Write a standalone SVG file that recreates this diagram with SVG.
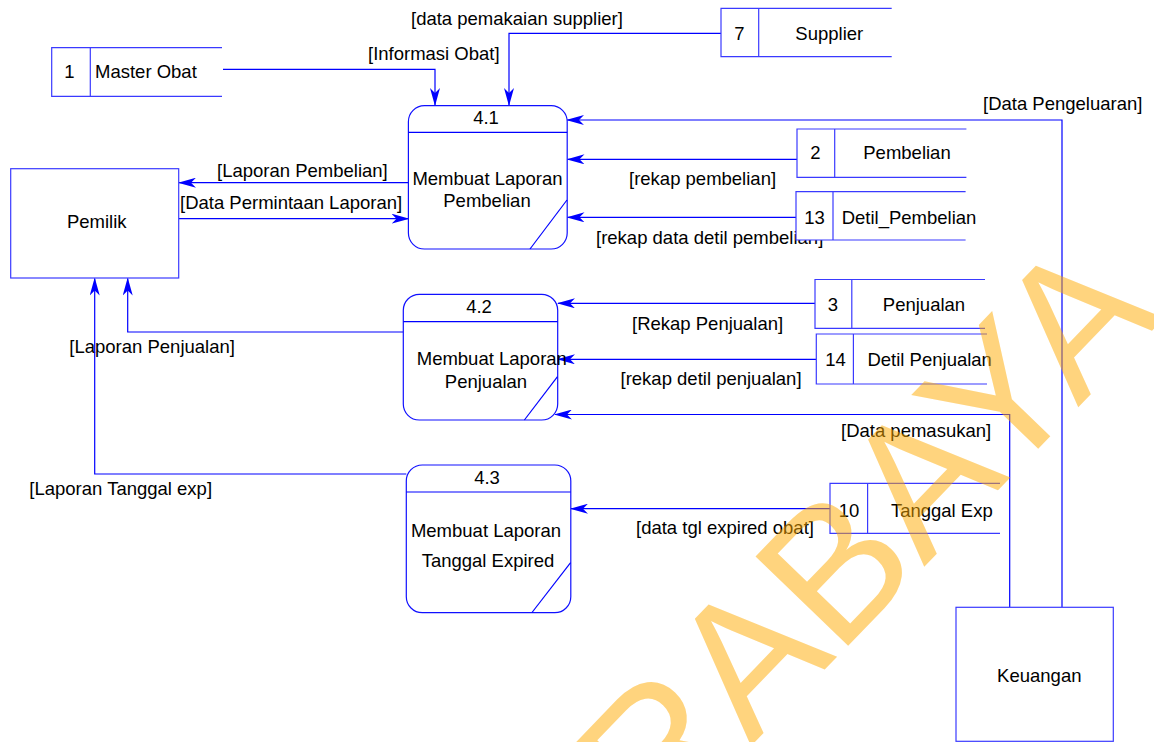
<svg xmlns="http://www.w3.org/2000/svg" width="1154" height="742" viewBox="0 0 1154 742">
  <style>
    text { font-family: "Liberation Sans", Arial, sans-serif; font-size: 18.5px; fill: #000; }
    .mid { text-anchor: middle; }
    .proc { fill: #fff; stroke: #1010ff; stroke-width: 1.2; }
    .ent { fill: #fff; stroke: #3a3aff; stroke-width: 1.2; }
    .store-bg { fill: #fff; stroke: none; }
    .store { fill: none; stroke: #3a3aff; stroke-width: 1.2; }
    .flow { fill: none; stroke: #0000ff; stroke-width: 1.2; marker-end: url(#arrow); }
    .line { fill: none; stroke: #0000ff; stroke-width: 1.2; }
    .wm { font-size: 187px; fill: #ffab00; opacity: 0.5; }
  </style>
  <defs>
    <marker id="arrow" viewBox="0 0 18 10" markerUnits="userSpaceOnUse" markerWidth="18" markerHeight="10" refX="17" refY="5" orient="auto">
      <path d="M0,0 L18,5 L0,10 L5,5 Z" fill="#0000ff"/>
    </marker>
  </defs>

  <rect width="1154" height="742" fill="#fff"/>

  <!-- connectors and their labels -->
  <g id="connectors">
    <!-- Master Obat -> 4.1 -->
    <polyline class="flow" points="223,69.3 435,69.3 435,105"/>
    <text x="368" y="60">[Informasi Obat]</text>
    <!-- Supplier -> 4.1 -->
    <polyline class="flow" points="721,33.3 509,33.3 509,105"/>
    <text x="411" y="25">[data pemakaian supplier]</text>
    <!-- Keuangan -> 4.1 -->
    <polyline class="flow" points="1062,607.3 1062,120 567,120"/>
    <text x="983" y="110">[Data Pengeluaran]</text>
    <!-- Pembelian -> 4.1 -->
    <line class="flow" x1="797" y1="159.3" x2="567.5" y2="159.3"/>
    <text x="629" y="185">[rekap pembelian]</text>
    <!-- Detil_Pembelian -> 4.1 -->
    <line class="flow" x1="796" y1="217.3" x2="567.5" y2="217.3"/>
    <text x="596" y="244">[rekap data detil pembelian]</text>
    <!-- 4.1 -> Pemilik -->
    <line class="flow" x1="408.5" y1="182.7" x2="179" y2="182.7"/>
    <text x="217" y="177">[Laporan Pembelian]</text>
    <!-- Pemilik -> 4.1 -->
    <line class="flow" x1="178.7" y1="218.7" x2="408.5" y2="218.7"/>
    <text x="180" y="209">[Data Permintaan Laporan]</text>
    <!-- Penjualan -> 4.2 -->
    <line class="flow" x1="815" y1="303.3" x2="558" y2="303.3"/>
    <text x="632" y="329.5">[Rekap Penjualan]</text>
    <!-- Detil Penjualan -> 4.2 -->
    <line class="flow" x1="816" y1="359.3" x2="558" y2="359.3"/>
    <text x="620.5" y="385">[rekap detil penjualan]</text>
    <!-- Keuangan -> 4.2 -->
    <polyline class="flow" points="1009.7,607.3 1009.7,414.5 555,414.5"/>
    <text x="841" y="437">[Data pemasukan]</text>
    <!-- 4.2 -> Pemilik -->
    <polyline class="flow" points="403.3,332 127.7,332 127.7,278.5"/>
    <text x="69.3" y="353">[Laporan Penjualan]</text>
    <!-- 4.3 -> Pemilik -->
    <polyline class="flow" points="406.3,474 94.7,474 94.7,278.5"/>
    <text x="29.3" y="495">[Laporan Tanggal exp]</text>
    <!-- Tanggal Exp -> 4.3 -->
    <line class="flow" x1="830" y1="508.7" x2="571" y2="508.7"/>
    <text x="636" y="534">[data tgl expired obat]</text>
  </g>

  <!-- external entities -->
  <g id="pemilik">
    <rect class="ent" x="10.7" y="168.7" width="168" height="109.3"/>
    <text class="mid" x="96.7" y="228.3">Pemilik</text>
  </g>
  <g id="keuangan">
    <rect class="ent" x="956" y="607.3" width="157.3" height="134"/>
    <text class="mid" x="1039.3" y="681.7">Keuangan</text>
  </g>

  <!-- data stores -->
  <g id="store-1">
    <rect class="store-bg" x="51.7" y="47.7" width="170" height="48.6"/>
    <path class="store" d="M222,47.7 H51.7 V96.3 H222 M90.3,47.7 V96.3"/>
    <text class="mid" x="69.5" y="78.3">1</text>
    <text x="95" y="78.3">Master Obat</text>
  </g>
  <g id="store-7">
    <rect class="store-bg" x="721" y="8.3" width="170.7" height="48.4"/>
    <path class="store" d="M891.7,8.3 H721 V56.7 H891.7 M758.7,8.3 V56.7"/>
    <text class="mid" x="739.3" y="40">7</text>
    <text class="mid" x="829.3" y="40">Supplier</text>
  </g>
  <g id="store-2">
    <rect class="store-bg" x="797" y="129" width="169.4" height="48.3"/>
    <path class="store" d="M966.4,129 H797 V177.3 H966.4 M834.7,129 V177.3"/>
    <text class="mid" x="815.5" y="159">2</text>
    <text class="mid" x="907" y="159">Pembelian</text>
  </g>
  <g id="store-13">
    <rect class="store-bg" x="796" y="191.7" width="169.6" height="48.3"/>
    <path class="store" d="M965.6,191.7 H796 V240 H965.6 M833,191.7 V240"/>
    <text class="mid" x="814.5" y="223.5">13</text>
    <text class="mid" x="909" y="223.5">Detil_Pembelian</text>
  </g>
  <g id="store-3">
    <rect class="store-bg" x="815" y="279.5" width="170" height="48.8"/>
    <path class="store" d="M985,279.5 H815 V328.3 H985 M851.8,279.5 V328.3"/>
    <text class="mid" x="833" y="311">3</text>
    <text class="mid" x="924" y="311">Penjualan</text>
  </g>
  <g id="store-14">
    <rect class="store-bg" x="816.3" y="334" width="170.7" height="50"/>
    <path class="store" d="M987,334 H816.3 V384 H987 M853.4,334 V384"/>
    <text class="mid" x="835.6" y="366">14</text>
    <text class="mid" x="929.7" y="366">Detil Penjualan</text>
  </g>
  <g id="store-10">
    <rect class="store-bg" x="830" y="483.3" width="170" height="50"/>
    <path class="store" d="M1000,483.3 H830 V533.3 H1000 M867.6,483.3 V533.3"/>
    <text class="mid" x="849" y="516.7">10</text>
    <text class="mid" x="941.8" y="516.7">Tanggal Exp</text>
  </g>

  <!-- processes -->
  <g id="process-4-1">
    <rect class="proc" x="408.4" y="105.7" width="158.8" height="143.3" rx="16" ry="16"/>
    <line class="line" x1="408.4" y1="132.3" x2="567.2" y2="132.3"/>
    <line class="line" x1="567" y1="200" x2="530" y2="249"/>
    <text class="mid" x="486" y="124.3">4.1</text>
    <text class="mid" x="487.5" y="185">Membuat Laporan</text>
    <text class="mid" x="487" y="207.3">Pembelian</text>
  </g>
  <g id="process-4-2">
    <rect class="proc" x="403.3" y="294.3" width="154.4" height="125.7" rx="16" ry="16"/>
    <line class="line" x1="403.3" y1="321.7" x2="557.7" y2="321.7"/>
    <line class="line" x1="557.5" y1="376.7" x2="524.4" y2="420"/>
    <text class="mid" x="479" y="313.3">4.2</text>
    <text class="mid" x="491.8" y="365">Membuat Laporan</text>
    <text class="mid" x="486" y="388">Penjualan</text>
  </g>
  <g id="process-4-3">
    <rect class="proc" x="406.3" y="465" width="164.5" height="147.7" rx="16" ry="16"/>
    <line class="line" x1="406.3" y1="492" x2="570.8" y2="492"/>
    <line class="line" x1="570.6" y1="562.7" x2="532" y2="612.5"/>
    <text class="mid" x="487" y="484.3">4.3</text>
    <text class="mid" x="486" y="537">Membuat Laporan</text>
    <text class="mid" x="488" y="567.2">Tanggal Expired</text>
  </g>

  <!-- translucent watermark lettering -->
  <text class="wm" x="657" y="843.5" transform="rotate(-46 657 843.5)">RABAYA</text>
</svg>
